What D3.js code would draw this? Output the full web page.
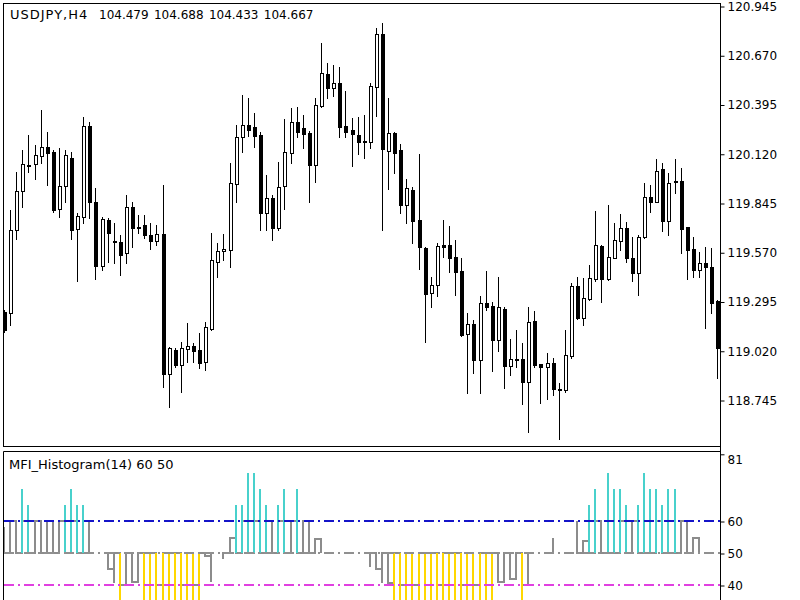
<!DOCTYPE html>
<html>
<head>
<meta charset="utf-8">
<script src="https://cdn.jsdelivr.net/npm/d3@7"></script>
<style>
  body { margin: 0; background: #fff; }
  svg text { font-family: "DejaVu Sans", sans-serif; font-size: 12px; fill: #000; }
</style>
</head>
<body>
<svg id="chart" width="800" height="600"></svg>
<script>
// USDJPY H4 candles
const opens = [
  119.236, 119.231, 119.694, 119.912, 120.052, 120.063, 120.107, 120.158, 120.130, 119.811,
  119.940, 120.096, 119.700, 119.767, 120.275, 119.851, 119.493, 119.750, 119.633, 119.627,
  119.566, 119.823, 119.711, 119.722, 119.666, 119.633, 119.672, 118.890, 119.024, 118.940,
  119.030, 119.046, 119.024, 118.957, 119.141, 119.516, 119.577, 119.583, 119.951, 120.214,
  120.281, 120.269, 120.225, 119.789, 119.873, 119.705, 119.940, 120.124, 120.297, 120.264,
  120.236, 120.057, 120.387, 120.565, 120.487, 120.515, 120.275, 120.253, 120.225, 120.191,
  120.186, 120.493, 120.789, 120.135, 120.236, 120.141, 119.834, 119.918, 119.750, 119.594,
  119.342, 119.387, 119.610, 119.610, 119.543, 119.465, 119.113, 119.169, 118.968, 119.287,
  119.270, 119.080, 119.253, 118.935, 118.974, 118.974, 118.845, 119.186, 118.946, 118.929,
  118.952, 118.806, 118.801, 118.991, 119.381, 119.203, 119.309, 119.421, 119.605, 119.421,
  119.538, 119.633, 119.705, 119.538, 119.454, 119.655, 119.878, 119.851, 120.035, 119.744,
  119.962, 119.968, 119.711, 119.588, 119.471, 119.510, 119.488, 119.298
];
const highs = [
  119.248, 119.806, 120.018, 120.141, 120.225, 120.169, 120.364, 120.241, 120.141, 120.152,
  120.141, 120.130, 119.789, 120.325, 120.297, 119.929, 119.767, 119.761, 119.733, 119.666,
  119.890, 119.851, 119.778, 119.778, 119.733, 119.722, 119.946, 119.041, 119.035, 119.069,
  119.175, 119.063, 119.119, 119.181, 119.677, 119.622, 119.672, 120.068, 120.281, 120.448,
  120.431, 120.348, 120.241, 120.001, 119.890, 120.074, 120.314, 120.375, 120.381, 120.336,
  120.247, 120.431, 120.738, 120.627, 120.616, 120.604, 120.470, 120.320, 120.325, 120.336,
  120.515, 120.822, 120.850, 120.431, 120.241, 120.174, 119.979, 119.934, 120.119, 119.599,
  119.432, 119.622, 119.750, 119.717, 119.638, 119.538, 119.231, 119.192, 119.326, 119.465,
  119.292, 119.432, 119.264, 119.086, 119.136, 119.063, 119.264, 119.242, 118.946, 119.007,
  118.979, 118.840, 119.136, 119.398, 119.432, 119.426, 119.499, 119.800, 119.610, 119.834,
  119.733, 119.784, 119.739, 119.655, 119.666, 119.957, 119.946, 120.091, 120.068, 120.013,
  120.091, 120.040, 119.711, 119.655, 119.571, 119.599, 119.594, 119.303
];
const lows = [
  119.125, 119.164, 119.644, 119.823, 120.018, 119.979, 120.068, 119.946, 119.795, 119.767,
  119.851, 119.644, 119.409, 119.733, 119.761, 119.421, 119.471, 119.516, 119.510, 119.443,
  119.510, 119.599, 119.677, 119.650, 119.588, 119.610, 118.818, 118.706, 118.929, 118.790,
  118.957, 118.957, 118.924, 118.912, 119.136, 119.432, 119.527, 119.488, 119.851, 120.130,
  120.219, 120.158, 119.694, 119.694, 119.638, 119.694, 119.811, 120.068, 120.214, 120.152,
  119.851, 119.962, 120.381, 120.431, 120.442, 120.214, 120.214, 120.052, 120.119, 120.096,
  120.152, 120.331, 119.694, 119.923, 120.013, 119.789, 119.733, 119.622, 119.476, 119.069,
  119.264, 119.326, 119.543, 119.460, 119.331, 119.102, 118.784, 118.896, 118.784, 119.248,
  118.907, 119.019, 118.812, 118.885, 118.929, 118.723, 118.566, 118.929, 118.728, 118.751,
  118.773, 118.527, 118.790, 118.979, 119.197, 119.164, 119.303, 119.409, 119.292, 119.415,
  119.538, 119.583, 119.516, 119.409, 119.331, 119.650, 119.795, 119.851, 119.689, 119.666,
  119.901, 119.566, 119.421, 119.432, 119.432, 119.147, 119.231, 118.868
];
const closes = [
  119.136, 119.694, 119.912, 120.063, 120.057, 120.113, 120.158, 120.124, 119.806, 119.940,
  120.113, 119.694, 119.772, 120.275, 119.851, 119.493, 119.756, 119.677, 119.627, 119.555,
  119.823, 119.705, 119.705, 119.666, 119.633, 119.672, 118.890, 119.035, 118.940, 119.035,
  119.046, 119.019, 118.952, 119.153, 119.527, 119.577, 119.588, 119.957, 120.214, 120.281,
  120.253, 120.219, 119.789, 119.873, 119.705, 119.934, 120.130, 120.297, 120.241, 120.230,
  120.057, 120.392, 120.571, 120.487, 120.515, 120.269, 120.241, 120.230, 120.186, 120.186,
  120.498, 120.789, 120.147, 120.236, 120.124, 119.834, 119.929, 119.744, 119.599, 119.337,
  119.387, 119.605, 119.599, 119.538, 119.460, 119.108, 119.169, 118.968, 119.287, 119.264,
  119.080, 119.264, 118.935, 118.974, 118.970, 118.845, 119.181, 118.940, 118.929, 118.952,
  118.806, 118.801, 118.996, 119.381, 119.203, 119.315, 119.426, 119.610, 119.421, 119.543,
  119.638, 119.705, 119.538, 119.454, 119.655, 119.878, 119.851, 120.024, 119.744, 119.957,
  119.968, 119.700, 119.583, 119.471, 119.510, 119.488, 119.287, 119.035
];

// MFI(14) value per bar
const mfi = [
  58, 60, 60, 70, 65, 60, 60, 60, 60, 60,
  65, 70, 65, 65, 60, 50, 50, 45, 40.5, 33,
  41, 41, 41, 34, 32, 30, 31, 33, 30, 29,
  31, 33, 34, 49, 41, 50, 48, 54.7, 65, 65,
  75, 75, 70, 65, 60, 65, 70, 60, 70, 60,
  54.5, 54.5, 54, 50, 50, 50, 50, 50, 50, 50,
  45.5, 45, 40.5, 40.5, 34, 33, 31, 30, 28, 27,
  29, 26, 28, 30, 29, 27, 30, 32, 31, 33,
  34, 41, 41, 42, 42, 34, 41, 50, 50, 50,
  54.6, 50, 50, 50, 60, 53.6, 65, 70, 60, 75,
  70, 70, 65, 60, 65, 75, 70, 70, 65, 70,
  70, 60, 60, 54.6, 54.6, 50, 50, 50
];

const priceTicks = [120.945, 120.670, 120.395, 120.120, 119.845, 119.570, 119.295, 119.020, 118.745];
const mfiTicks = [81, 60, 50, 40];
const mfiLevels = [60, 50, 40];
const levelColors = ['#1414c8', '#909090', '#e040e0'];
const upLevel = 60, downLevel = 40, midLevel = 50;

const symbolTitle = 'USDJPY,H4';
const lastQuote = '104.479 104.688 104.433 104.667';
const mfiTitle = 'MFI_Histogram(14) 60 50';

const LEFT = 4, RIGHT = 721;
const MAIN_TOP = 4, MAIN_BOTTOM = 447;
const SUB_TOP = 452, SUB_BOTTOM = 600;

const svg = d3.select('#chart');

const x = d3.scaleBand().domain(d3.range(opens.length)).range([2, 721.3]);
const cx = i => Math.round(x(i) + x.bandwidth() / 2);
const y = d3.scaleLinear().domain([118.745, 120.945]).range([400, 6]);
const ym = d3.scaleLinear().domain([40, 60]).range([585, 521]);

let defs = svg.append('defs');
defs.append('clipPath').attr('id', 'clipMain')
    .append('rect')
    .attr('x', LEFT).attr('y', MAIN_TOP)
    .attr('width', RIGHT - LEFT).attr('height', MAIN_BOTTOM - MAIN_TOP);
defs.append('clipPath').attr('id', 'clipSub')
    .append('rect')
    .attr('x', LEFT).attr('y', SUB_TOP)
    .attr('width', RIGHT - LEFT).attr('height', SUB_BOTTOM - SUB_TOP);

// ---- price pane
let bars = d3.range(opens.length).map(i => ({
    i: i, o: opens[i], h: highs[i], l: lows[i], c: closes[i], up: closes[i] > opens[i]
}));

let main = svg.append('g').attr('clip-path', 'url(#clipMain)');

main.selectAll('line.wick')
    .data(bars)
    .join('line')
    .attr('class', 'wick')
    .attr('x1', d => cx(d.i) - 0.5)
    .attr('x2', d => cx(d.i) - 0.5)
    .attr('y1', d => Math.round(y(d.h)))
    .attr('y2', d => Math.round(y(d.l)) + 1)
    .attr('stroke', '#000')
    .attr('stroke-width', 1);

// bearish bodies: solid black
main.selectAll('rect.down')
    .data(bars.filter(d => !d.up))
    .join('rect')
    .attr('class', 'down')
    .attr('x', d => cx(d.i) - 2)
    .attr('y', d => Math.round(y(d.o)))
    .attr('width', 4)
    .attr('height', d => Math.max(1, Math.round(y(d.c)) - Math.round(y(d.o)) + 1))
    .attr('fill', '#000');

// bullish bodies: white with black outline
main.selectAll('rect.up')
    .data(bars.filter(d => d.up))
    .join('rect')
    .attr('class', 'up')
    .attr('x', d => cx(d.i) - 1.5)
    .attr('y', d => Math.round(y(d.c)) + 0.5)
    .attr('width', 3)
    .attr('height', d => Math.max(0.5, Math.round(y(d.o)) - Math.round(y(d.c))))
    .attr('fill', '#fff')
    .attr('stroke', '#000')
    .attr('stroke-width', 1);

svg.append('text')
    .attr('x', 10)
    .attr('y', 19)
    .style('font-size', '13px')
    .style('letter-spacing', '1px')
    .text(symbolTitle);
svg.append('text')
    .attr('x', 99)
    .attr('y', 19)
    .style('word-spacing', '1.5px')
    .text(lastQuote);

// ---- MFI pane
let sub = svg.append('g').attr('clip-path', 'url(#clipSub)');
const hx = i => cx(i) - 1;
const clampMid = v => Math.max(downLevel, Math.min(upLevel, v));

// grey zigzag between 50 and the clamped value, alternating ends
let zz = [];
mfi.forEach((v, i) => {
    let ok = v !== midLevel;
    let a = {x: hx(i), v: midLevel, ok: ok};
    let b = {x: hx(i), v: clampMid(v), ok: ok};
    if (i % 2 === 0) zz.push(b, a); else zz.push(a, b);
});
let zigzag = d3.line()
    .defined(d => d.ok)
    .curve(d3.curveStepAfter)
    .x(d => d.x)
    .y(d => Math.round(ym(d.v)));

sub.append('path')
    .datum(zz)
    .attr('d', zigzag)
    .attr('fill', 'none')
    .attr('stroke', '#8c8c8c')
    .attr('stroke-width', 2);

let hist = mfi.map((v, i) => ({i: i, v: v}))
    .filter(d => d.v > upLevel || d.v < downLevel);

sub.selectAll('line.hist')
    .data(hist)
    .join('line')
    .attr('class', 'hist')
    .attr('x1', d => hx(d.i))
    .attr('x2', d => hx(d.i))
    .attr('y1', d => Math.round(ym(midLevel)))
    .attr('y2', d => ym(d.v))
    .attr('stroke', d => d.v > upLevel ? '#48d1cc' : '#ffd700')
    .attr('stroke-width', 2);

sub.selectAll('line.level')
    .data(mfiLevels)
    .join('line')
    .attr('class', 'level')
    .attr('x1', LEFT)
    .attr('x2', RIGHT)
    .attr('y1', d => Math.round(ym(d)))
    .attr('y2', d => Math.round(ym(d)))
    .attr('stroke', (d, k) => levelColors[k])
    .attr('stroke-width', 2)
    .attr('stroke-dasharray', '10,4,2,4');

svg.append('text')
    .attr('x', 9)
    .attr('y', 469)
    .style('font-size', '13px')
    .style('white-space', 'pre')
    .text(mfiTitle);

// ---- frames
svg.append('rect')
    .attr('x', LEFT - 0.5).attr('y', MAIN_TOP - 0.5)
    .attr('width', RIGHT - LEFT).attr('height', MAIN_BOTTOM - MAIN_TOP)
    .attr('fill', 'none').attr('stroke', '#000');
svg.append('path')
    .attr('d', `M${LEFT - 0.5},${SUB_BOTTOM + 5}V${SUB_TOP - 0.5}H${RIGHT - 0.5}V${SUB_BOTTOM + 5}`)
    .attr('fill', 'none').attr('stroke', '#000');
svg.append('line')
    .attr('x1', RIGHT - 0.5).attr('x2', RIGHT - 0.5)
    .attr('y1', MAIN_TOP).attr('y2', SUB_BOTTOM)
    .attr('stroke', '#000');

// ---- axes
let priceAxis = d3.axisRight(y)
    .tickValues(priceTicks)
    .tickSize(4)
    .tickPadding(3)
    .tickFormat(d3.format('.3f'));
let gp = svg.append('g')
    .attr('transform', `translate(${RIGHT - 0.5},0.5)`)
    .call(priceAxis);

let mfiAxis = d3.axisRight(ym)
    .tickValues(mfiTicks)
    .tickSize(4)
    .tickPadding(3)
    .tickFormat(d3.format('d'));
let gm = svg.append('g')
    .attr('transform', `translate(${RIGHT - 0.5},0.5)`)
    .call(mfiAxis);
gm.selectAll('.tick').filter(d => d === 81).select('text').attr('dy', '0.75em');

[gp, gm].forEach(g => {
    g.select('.domain').remove();
    g.selectAll('.tick line').attr('stroke', '#000');
    g.selectAll('.tick text')
        .attr('font-family', '"DejaVu Sans", sans-serif')
        .attr('font-size', 12)
        .attr('fill', '#000');
});
</script>
</body>
</html>
